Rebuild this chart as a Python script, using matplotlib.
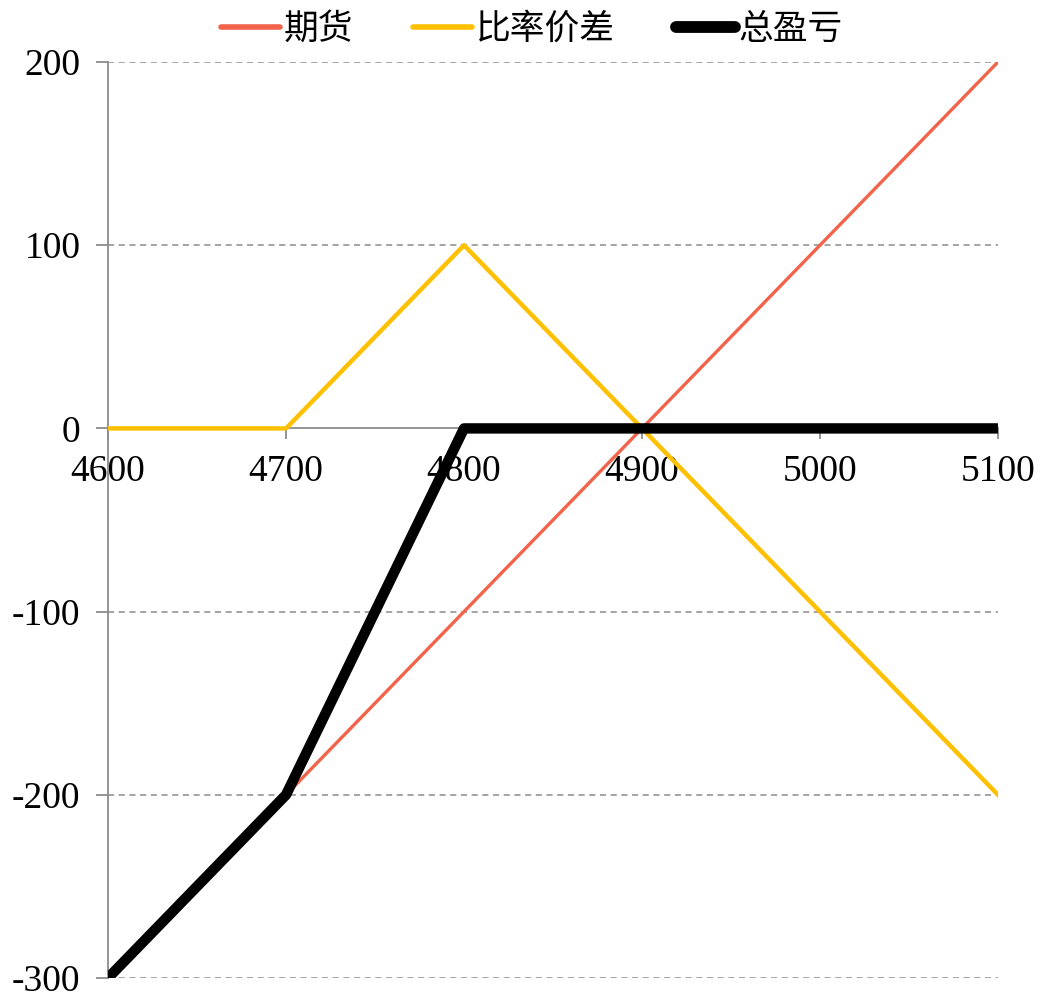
import matplotlib.pyplot as plt

plt.rcParams['font.family'] = ['Liberation Serif', 'Noto Sans CJK SC']
plt.rcParams['axes.unicode_minus'] = False

x = [4600, 4700, 4800, 4900, 5000, 5100]
futures = [-300, -200, -100, 0, 100, 200]
ratio_spread = [0, 0, 100, 0, -100, -200]
total_pnl = [-300, -200, 0, 0, 0, 0]
labels = ['期货', '比率价差', '总盈亏']

fig = plt.figure(figsize=(10.39, 9.94), dpi=100)
ax = fig.add_axes([0.104, 0.0161, 0.8565, 0.9215])

ax.plot(x, futures, color='#F2634A', lw=2.4, label=labels[0], zorder=3)
ax.plot(x, ratio_spread, color='#FFC000', lw=3.2, label=labels[1], zorder=4)
ax.plot(x, total_pnl, color='black', lw=7.5, label=labels[2], zorder=5,
        solid_capstyle='butt')

ax.set_xlim(4600, 5100)
ax.set_ylim(-300, 200)
ax.set_yticks(range(-300, 201, 100))
ax.set_xticks(x)

for y in range(-300, 201, 100):
    if y != 0:
        ax.axhline(y, color='#8C8C8C', lw=1.1, ls=(0, (4, 3)), zorder=1)

for s in ['top', 'right']:
    ax.spines[s].set_visible(False)
ax.spines['bottom'].set_position(('data', 0))
ax.spines['bottom'].set_color('#8C8C8C')
ax.spines['left'].set_color('#8C8C8C')
ax.spines['bottom'].set_linewidth(1.3)
ax.spines['left'].set_linewidth(1.3)
ax.spines['bottom'].set_zorder(2)

ax.tick_params(axis='y', direction='out', length=9, width=1.3, color='#8C8C8C',
               labelsize=27, pad=11)
ax.tick_params(axis='x', direction='out', length=8, width=1.3, color='#8C8C8C',
               labelsize=27, pad=11)

leg = fig.legend(loc='center', bbox_to_anchor=(0.5116, 0.9705), ncol=3, frameon=False,
                 prop={'family': 'Noto Sans CJK SC', 'size': 25},
                 handlelength=1.7, handletextpad=0.1, columnspacing=1.75)
for h, w in zip(leg.legend_handles, [4.0, 4.0, 8.5]):
    h.set_solid_capstyle('round')
    h.set_linewidth(w)

fig.savefig('out.png', dpi=100)
